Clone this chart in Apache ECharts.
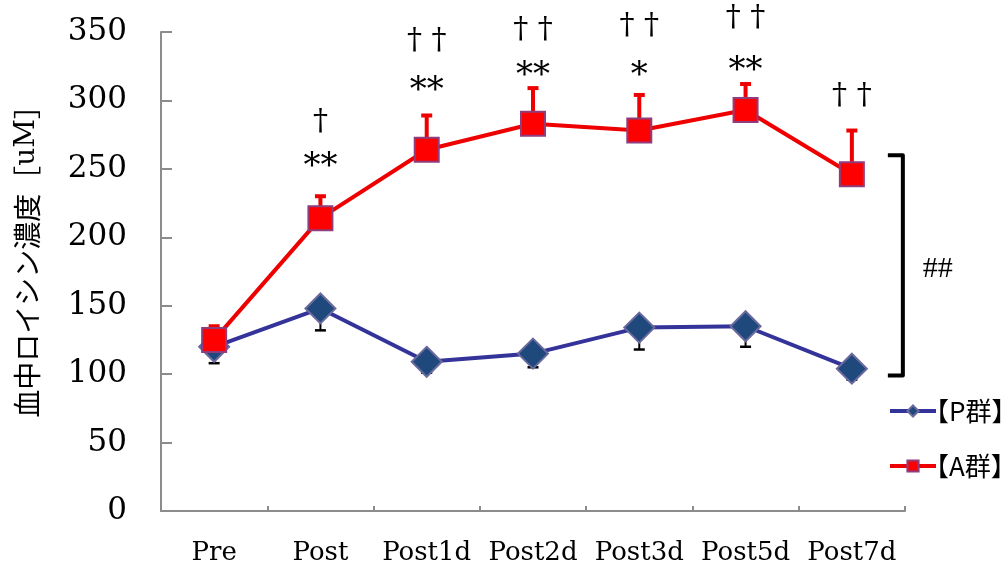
<!DOCTYPE html>
<html>
<head>
<meta charset="utf-8">
<script src="https://cdn.jsdelivr.net/npm/echarts@6/dist/echarts.min.js"></script>
<style>
html,body{margin:0;padding:0;background:#fff;}
#main{width:1005px;height:567px;}
</style>
</head>
<body>
<div id="main"></div>
<script>
// ---- data ----
const categories = ['Pre', 'Post', 'Post1d', 'Post2d', 'Post3d', 'Post5d', 'Post7d'];
const pMean = [120, 148, 109, 115, 134, 135, 104];
const pSD   = [12, 16, 8, 10, 16, 15, 8];
const aMean = [125, 214, 264, 283, 278, 293, 246];
const aSD   = [10, 16, 25, 26, 26, 19, 32];
const yTicks = { min: 0, max: 350, interval: 50 };
// significance marks (category index, value position, text)
const annCat  = [1, 1, 2, 2, 3, 3, 4, 4, 5, 5, 6];
const annY    = [284, 258, 343, 313, 351, 324, 354, 324, 360, 328, 303];
const annText = ['†', '**', '† †', '**', '† †', '**', '† †', '*', '† †', '**', '† †'];
// group difference bracket: [category, top, bottom, label value]
const bracket = [6, 260, 99, 177];
const bracketLabel = '##';

const chart = echarts.init(document.getElementById('main'), null, { renderer: 'canvas' });

function errData(mean, sd) {
  return mean.map((m, i) => [i, m, sd[i]]);
}
function errRender(dir, color, lw, capW, capH) {
  return function (params, api) {
    const i = api.value(0), m = api.value(1), s = api.value(2);
    const p0 = api.coord([i, m]);
    const p1 = api.coord([i, m + dir * s]);
    return {
      type: 'group',
      children: [
        { type: 'line', shape: { x1: p0[0], y1: p0[1], x2: p1[0], y2: p1[1] },
          style: { stroke: color, lineWidth: lw } },
        { type: 'rect', shape: { x: p1[0] - capW / 2, y: p1[1] - capH / 2, width: capW, height: capH },
          style: { fill: color } }
      ]
    };
  };
}

const annData = annCat.map((c, i) => [c, annY[i], i]);

const option = {
  animation: false,
  backgroundColor: '#ffffff',
  grid: { left: 161, right: 100, top: 32, bottom: 56, containLabel: false },
  legend: {
    orient: 'vertical',
    left: 883,
    top: 392,
    itemWidth: 46,
    itemHeight: 14,
    itemGap: 27,
    data: ['【P群】', '【A群】'],
    lineStyle: { width: 4 },
    textStyle: { fontFamily: 'Noto Sans CJK JP', fontSize: 26, color: '#000', lineHeight: 28, padding: [0, 0, 0, -18] }
  },
  xAxis: {
    type: 'category',
    data: categories,
    boundaryGap: true,
    axisLine: { lineStyle: { color: '#8c8c8c', width: 2 } },
    axisTick: { show: true, inside: true, length: 5, interval: 0, lineStyle: { color: '#8c8c8c', width: 2 } },
    axisLabel: { fontFamily: 'DejaVu Serif', fontSize: 26, color: '#000', margin: 29, interval: 0 },
    splitLine: { show: false }
  },
  yAxis: {
    type: 'value',
    min: yTicks.min, max: yTicks.max, interval: yTicks.interval,
    name: '{a|血中ロイシン濃度}{b|［}{c|uM}{b|］}',
    nameLocation: 'middle',
    nameRotate: 90,
    nameGap: 120,
    nameTextStyle: {
      padding: [0, 0, 0, 34],
      rich: {
        a: { fontFamily: 'Noto Sans CJK JP', fontSize: 28, color: '#000' },
        b: { fontFamily: 'Noto Sans CJK JP', fontSize: 28, color: '#000' },
        c: { fontFamily: 'DejaVu Serif', fontSize: 28, color: '#000' }
      }
    },
    axisLine: { show: true, lineStyle: { color: '#8c8c8c', width: 2 } },
    axisTick: { show: true, inside: true, length: 11, lineStyle: { color: '#8c8c8c', width: 2 } },
    axisLabel: { fontFamily: 'DejaVu Serif', fontSize: 31, color: '#000', margin: 34 },
    splitLine: { show: false }
  },
  series: [
    {
      type: 'custom', name: 'pErr', z: 1, clip: false,
      renderItem: errRender(-1, '#000000', 2, 11, 2.5),
      data: errData(pMean, pSD)
    },
    {
      type: 'custom', name: 'aErr', z: 1, clip: false,
      renderItem: errRender(1, '#ee0000', 4, 11, 4),
      data: errData(aMean, aSD)
    },
    {
      type: 'line', name: '【P群】', z: 3,
      data: pMean,
      symbol: 'diamond', symbolSize: [30, 30],
      lineStyle: { color: '#333399', width: 4 },
      itemStyle: { color: '#1f497d', borderColor: '#6a6a9e', borderWidth: 2 }
    },
    {
      type: 'line', name: '【A群】', z: 4,
      data: aMean,
      symbol: 'rect', symbolSize: 24,
      lineStyle: { color: '#ee0000', width: 4 },
      itemStyle: { color: '#ff0000', borderColor: '#8e3e7c', borderWidth: 2 }
    },
    {
      type: 'custom', name: 'ann', z: 5, clip: false,
      renderItem: function (params, api) {
        const idx = api.value(2);
        const t = annText[idx];
        const p = api.coord([api.value(0), api.value(1)]);
        const isStar = t.indexOf('*') >= 0;
        return {
          type: 'text',
          x: p[0], y: p[1] + (isStar ? 9 : 0),
          style: {
            text: t,
            font: (isStar ? '34px' : '30px') + ' "DejaVu Serif"',
            fill: '#000',
            align: 'center',
            verticalAlign: 'middle'
          }
        };
      },
      data: annData
    },
    {
      type: 'custom', name: 'bracket', z: 5, clip: false,
      renderItem: function (params, api) {
        const c = api.value(0);
        const pt = api.coord([c, api.value(1)]);
        const pb = api.coord([c, api.value(2)]);
        const ph = api.coord([c, api.value(3)]);
        const x0 = pt[0] + 36, x1 = pt[0] + 51;
        return {
          type: 'group',
          children: [
            { type: 'polyline',
              shape: { points: [[x0, pt[1]], [x1, pt[1]], [x1, pb[1]], [x0, pb[1]]] },
              style: { stroke: '#000', lineWidth: 4, fill: null, lineJoin: 'round' } },
            { type: 'text', x: pt[0] + 86, y: ph[1],
              style: { text: bracketLabel, font: '30px "Liberation Serif"', fill: '#000', align: 'center', verticalAlign: 'middle' } }
          ]
        };
      },
      data: [bracket]
    }
  ]
};
chart.setOption(option);
</script>
</body>
</html>
